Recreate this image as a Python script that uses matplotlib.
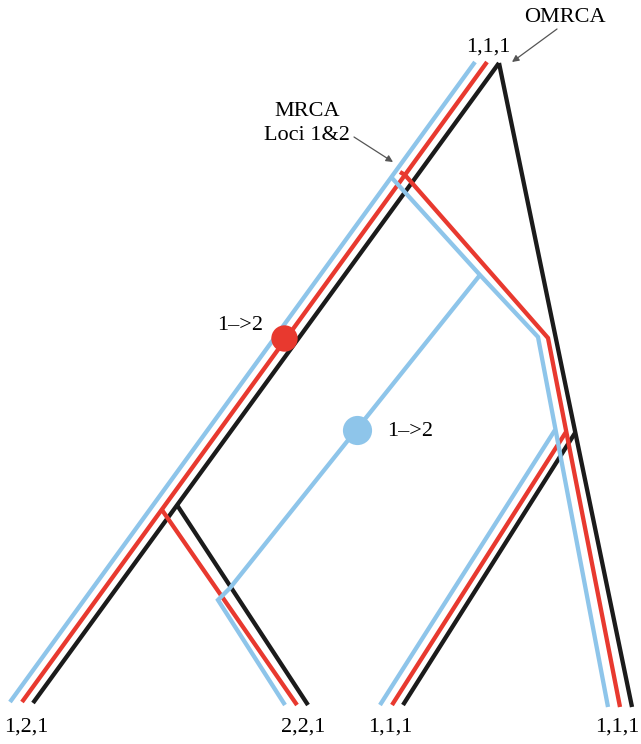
"""
Gene genealogies for three loci (blue, red, black) on four sampled lineages,
with the MRCA of loci 1&2 and the overall MRCA marked.
"""

import matplotlib.pyplot as plt

plt.rcParams["font.family"] = ["Liberation Serif", "DejaVu Serif"]

# Node coordinates (image pixels, y downwards) for each locus
black_paths = [
    [(499, 63), (33, 703)],
    [(499, 63), (632, 707)],
    [(177, 505), (308, 705)],
    [(575, 433), (403, 705)],
]
red_paths = [
    [(487, 62), (22, 702)],
    [(400, 172), (405, 175), (548, 338), (620, 707)],
    [(162, 510), (297, 705)],
    [(566, 432), (392, 705)],
]
blue_paths = [
    [(475, 62), (10, 702)],
    [(392, 178), (480, 275), (538, 337), (608, 707)],
    [(555, 430), (380, 705)],
    [(480, 275), (230, 588), (218, 600), (285, 705)],
]

# Mutations 1->2
red_mut = (284, 338)
blue_mut = (357, 430)

# Sample labels at the tips
tip_labels = ["1,2,1", "2,2,1", "1,1,1", "1,1,1"]
tip_x = [26, 303, 390, 617]
tip_y = 727

BLUE = "#8ec5ea"
RED = "#e8392f"
BLACK = "#1b1b1b"

fg = plt.figure(figsize=(6.41, 7.44), dpi=100)
ax = fg.add_axes([0, 0, 1, 1])
ax.set_xlim(0, 641)
ax.set_ylim(744, 0)
ax.axis("off")

for paths, col in [(black_paths, BLACK), (red_paths, RED), (blue_paths, BLUE)]:
    for p in paths:
        xs, ys = zip(*p)
        ax.plot(xs, ys, color=col, lw=3.1, solid_capstyle="butt",
                solid_joinstyle="miter")

ax.plot(*red_mut, "o", color=RED, ms=19, mec="none", zorder=5)
ax.plot(*blue_mut, "o", color=BLUE, ms=21, mec="none", zorder=5)

fs = 16
ax.text(263, 326, "1–>2", fontsize=fs, ha="right", va="center")
ax.text(387, 431, "1–>2", fontsize=fs, ha="left", va="center")

for lab, x in zip(tip_labels, tip_x):
    ax.text(x, tip_y, lab, fontsize=fs, ha="center", va="center")

ax.text(488, 47, "1,1,1", fontsize=fs, ha="center", va="center")
ax.text(565, 17, "OMRCA", fontsize=fs, ha="center", va="center")
ax.text(307, 112, "MRCA", fontsize=fs, ha="center", va="center")
ax.text(307, 135, "Loci 1&2", fontsize=fs, ha="center", va="center")

arrow = dict(arrowstyle="-|>", color="#555555", lw=0.9,
             mutation_scale=10, shrinkA=0, shrinkB=0)
ax.annotate("", xy=(512, 62), xytext=(557, 29), arrowprops=arrow)
ax.annotate("", xy=(393, 162), xytext=(354, 137), arrowprops=arrow)

fg.savefig("out.png", dpi=100)
